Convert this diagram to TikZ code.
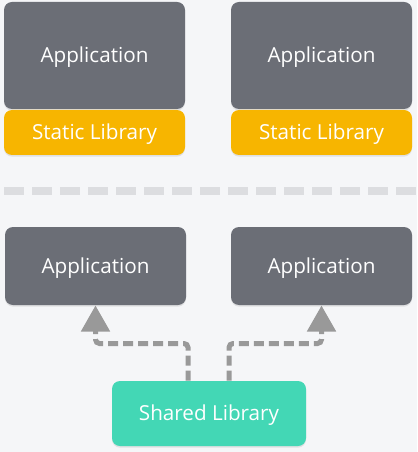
\documentclass[tikz,border=0pt]{standalone}
\usepackage{fontspec}
\setmainfont{Open Sans}
\usetikzlibrary{arrows.meta,shadows}

\definecolor{bgcol}{HTML}{F5F6F8}
\definecolor{appcol}{HTML}{6B6E76}
\definecolor{staticcol}{HTML}{F7B500}
\definecolor{sharedcol}{HTML}{43D7B5}
\definecolor{sepcol}{HTML}{DCDDE0}
\definecolor{linkcol}{HTML}{999999}

\tikzset{every picture/.style={line width=0.75pt}}
\tikzset{
	box/.style={rounded corners=6pt, inner sep=0pt, text=white, font=\fontsize{15.5}{18}\selectfont,
		text height=11.2pt, text depth=0pt,
		drop shadow={opacity=0.18, shadow xshift=0pt, shadow yshift=-1.2pt}},
	appbox/.style={box, fill=appcol, minimum width=135.75pt},
	staticbox/.style={box, fill=staticcol, minimum width=135.75pt, minimum height=33.75pt},
	sharedbox/.style={box, fill=sharedcol, minimum width=145.5pt, minimum height=48.75pt},
	link/.style={draw=linkcol, line width=3.75pt, dash pattern=on 7.5pt off 3.75pt, rounded corners=3pt,
		-{Triangle[width=21pt,length=19.5pt]}}
}

\begin{document}
\begin{tikzpicture}[x=0.75pt,y=0.75pt,yscale=-1,xscale=1]
	% background
	\fill [bgcol] (0,0) rectangle (417,452);
	\useasboundingbox (0,0) rectangle (417,452);
	
	% Static linking
	\node [appbox, minimum height=80.25pt] (appTL) at (94.5,55.5) {Application};
	\node [staticbox] (libTL) at (94.5,132.5) {Static Library};
	\node [appbox, minimum height=80.25pt] (appTR) at (321.5,55.5) {Application};
	\node [staticbox] (libTR) at (321.5,132.5) {Static Library};
	
	% Separator
	\draw [sepcol, line width=6pt, dash pattern=on 15pt off 6pt] (4,191) -- (417,191) ;
	
	% Shared linking
	\node [appbox, minimum height=58.5pt] (appBL) at (95.5,266) {Application};
	\node [appbox, minimum height=58.5pt] (appBR) at (321.5,266) {Application};
	\node [sharedbox] (shared) at (209,413.5) {Shared Library};
	
	\draw [link] ([xshift=-15.75pt]shared.north) -- ++(0,-37) -| (appBL.south) ;
	\draw [link] ([xshift=15pt]shared.north) -- ++(0,-37) -| (appBR.south) ;
	
\end{tikzpicture}
\end{document}
